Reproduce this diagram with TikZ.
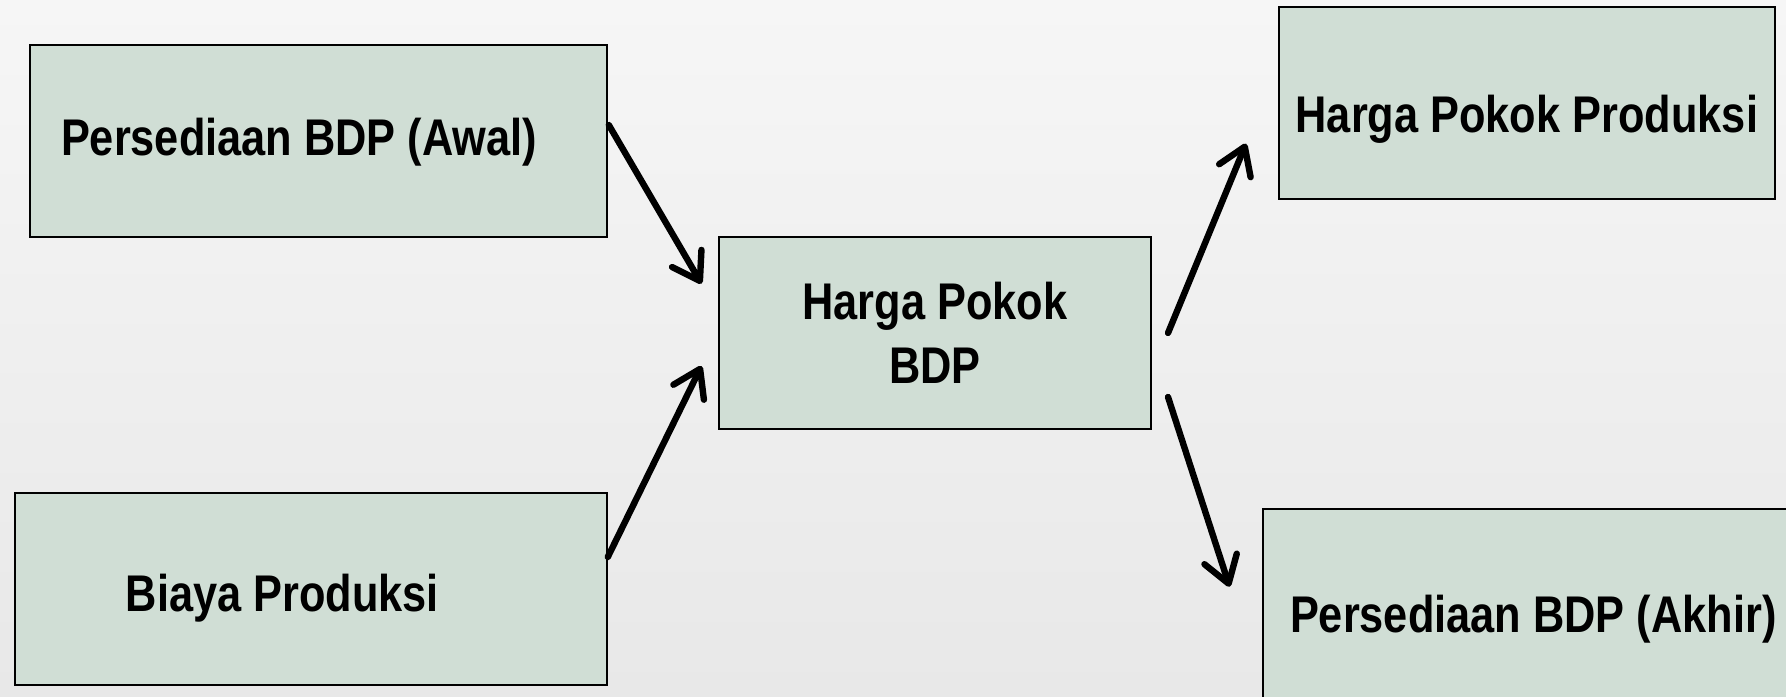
\documentclass[tikz,border=0pt]{standalone}
\usepackage{fontspec}
\setmainfont{Liberation Sans}[FakeStretch=0.84]
\usetikzlibrary{arrows.meta,calc}
\definecolor{boxfill}{RGB}{208,222,213}
\definecolor{bgtop}{RGB}{246,246,246}
\definecolor{bgbot}{RGB}{232,232,232}
\tikzset{
  box/.style={draw=black, line width=1pt, fill=boxfill, rectangle, inner ysep=0pt,
    font=\fontsize{25.8}{32}\selectfont\bfseries},
  flow/.style={line width=3.2pt, line cap=round,
    -{Straight Barb[length=13pt,width=17pt,line join=round,line cap=round]}}
}
\begin{document}
\begin{tikzpicture}[x=0.5pt,y=-0.5pt]
\useasboundingbox (0,0) rectangle (1786,696);
\clip (0,0) rectangle (1786,696);
\shade[top color=bgtop, bottom color=bgbot] (0,0) rectangle (1786,696);

\node[box, anchor=north west, inner xsep=15.5pt, text width=257.5pt, align=flush left,
  text height=55pt, text depth=41pt] (awal) at (29,44) {Persediaan BDP (Awal)};
\node[box, anchor=north west, inner xsep=55.5pt, text width=185pt, align=flush left,
  text height=59pt, text depth=37pt] (biaya) at (13.8,492) {Biaya Produksi};
\node[box, anchor=north west, text width=216.25pt, minimum height=96pt, align=flush center,
  inner xsep=0pt] (hp) at (717.5,236) {Harga Pokok\\BDP};
\node[box, anchor=north west, inner xsep=0pt, text width=248.15pt, align=flush center,
  text height=63pt, text depth=33.15pt] (hpp) at (1277.7,5.7) {Harga Pokok Produksi};
\node[box, anchor=north west, inner xsep=13.5pt, text width=257pt, align=flush left,
  text height=61.65pt, text depth=39.5pt] (akhir) at (1262,507.7) {Persediaan BDP (Akhir)};

\draw[flow] ($(awal.east)+(0.8,-16)$) -- ($(hp.west)+(-16,-49.3)$);
\draw[flow] ($(biaya.east)+(0,-32)$) -- ($(hp.west)+(-16,33)$);
\draw[flow] ($(hp.east)+(16,0)$) -- ($(hpp.south west)+(-31.7,-56.3)$);
\draw[flow] ($(hp.east)+(16,64)$) -- ($(akhir.north west)+(-32.4,79)$);
\end{tikzpicture}
\end{document}
